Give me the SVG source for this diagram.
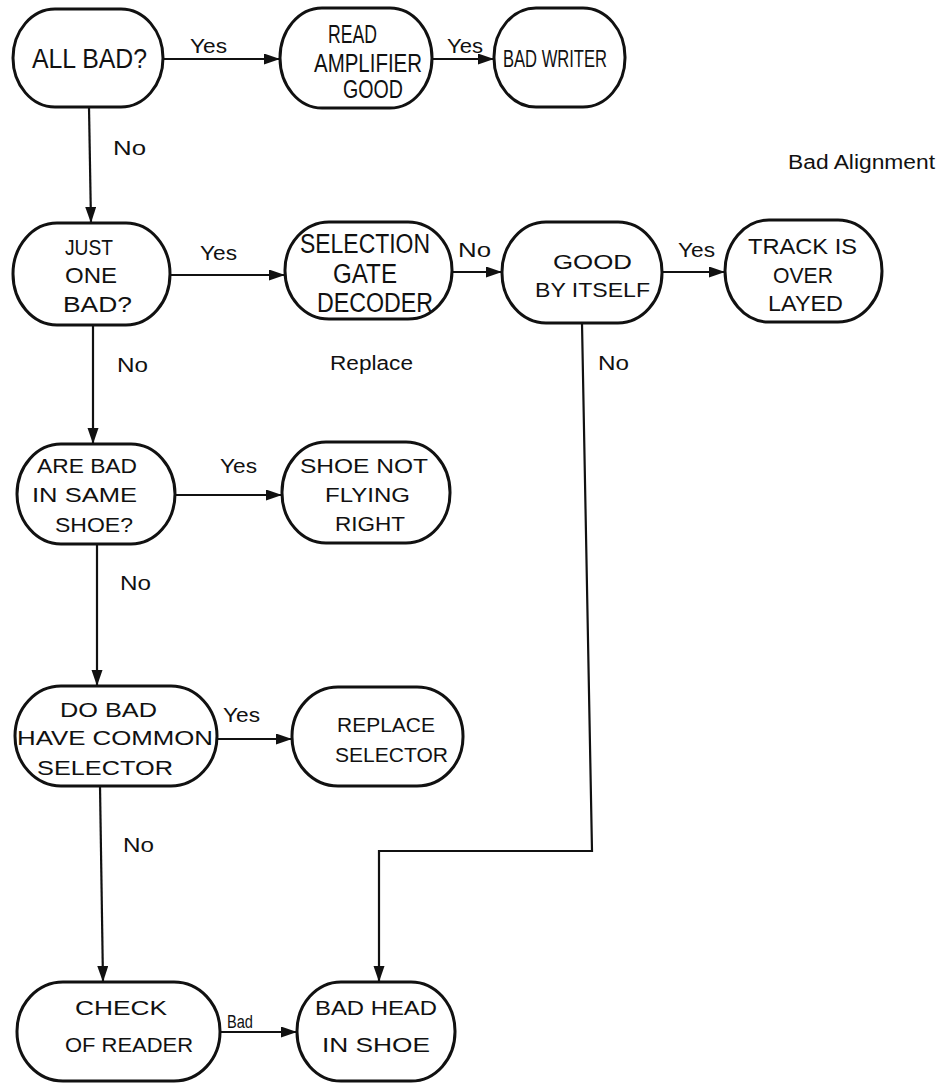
<svg xmlns="http://www.w3.org/2000/svg" width="951" height="1084" viewBox="0 0 951 1084">
<style>
  .node { fill: #fff; stroke: #111; stroke-width: 3; }
  .nt { font-family: "Liberation Sans", Arial, sans-serif; fill: #111; }
  .lbl { font-family: "Liberation Sans", Arial, sans-serif; fill: #111; font-size: 20px; }
  .conn { fill: none; stroke: #111; stroke-width: 2.2; }
</style>
<defs>
  <marker id="arr" markerUnits="userSpaceOnUse" markerWidth="17" markerHeight="12" refX="16" refY="5.5" orient="auto">
    <path d="M0,0 L16,5.5 L0,11 z" fill="#111"/>
  </marker>
</defs>
<rect width="951" height="1084" fill="#fff"/>

<g id="connectors">
  <line class="conn" x1="163" y1="59" x2="280" y2="59" marker-end="url(#arr)"/>
  <line class="conn" x1="432" y1="59" x2="494" y2="59" marker-end="url(#arr)"/>
  <line class="conn" x1="89" y1="107" x2="91" y2="223" marker-end="url(#arr)"/>
  <line class="conn" x1="170" y1="275" x2="285" y2="275" marker-end="url(#arr)"/>
  <line class="conn" x1="452" y1="272" x2="502" y2="272" marker-end="url(#arr)"/>
  <line class="conn" x1="662" y1="272" x2="725" y2="272" marker-end="url(#arr)"/>
  <line class="conn" x1="93" y1="325" x2="93" y2="444" marker-end="url(#arr)"/>
  <line class="conn" x1="175" y1="495" x2="282" y2="495" marker-end="url(#arr)"/>
  <line class="conn" x1="97" y1="544" x2="97" y2="686" marker-end="url(#arr)"/>
  <line class="conn" x1="217" y1="739" x2="292" y2="739" marker-end="url(#arr)"/>
  <line class="conn" x1="100" y1="786" x2="103" y2="982" marker-end="url(#arr)"/>
  <line class="conn" x1="220" y1="1032" x2="297" y2="1032" marker-end="url(#arr)"/>
  <polyline class="conn" points="582,323 592,851 379,851 379,982" marker-end="url(#arr)"/>
  <text class="lbl" x="190" y="53" textLength="37" lengthAdjust="spacingAndGlyphs">Yes</text>
  <text class="lbl" x="447" y="53" textLength="36" lengthAdjust="spacingAndGlyphs">Yes</text>
  <text class="lbl" x="113" y="155" textLength="33" lengthAdjust="spacingAndGlyphs">No</text>
  <text class="lbl" x="200" y="260" textLength="37" lengthAdjust="spacingAndGlyphs">Yes</text>
  <text class="lbl" x="458" y="257" textLength="33" lengthAdjust="spacingAndGlyphs">No</text>
  <text class="lbl" x="678" y="257" textLength="37" lengthAdjust="spacingAndGlyphs">Yes</text>
  <text class="lbl" x="117" y="372" textLength="31" lengthAdjust="spacingAndGlyphs">No</text>
  <text class="lbl" x="220" y="473" textLength="37" lengthAdjust="spacingAndGlyphs">Yes</text>
  <text class="lbl" x="120" y="590" textLength="31" lengthAdjust="spacingAndGlyphs">No</text>
  <text class="lbl" x="223" y="722" textLength="37" lengthAdjust="spacingAndGlyphs">Yes</text>
  <text class="lbl" x="123" y="852" textLength="31" lengthAdjust="spacingAndGlyphs">No</text>
  <text class="lbl" x="227" y="1028" style="font-size:18px" textLength="26" lengthAdjust="spacingAndGlyphs">Bad</text>
  <text class="lbl" x="598" y="370" textLength="31" lengthAdjust="spacingAndGlyphs">No</text>
</g>

<g id="annotations">
  <text class="lbl" x="330" y="370" textLength="83" lengthAdjust="spacingAndGlyphs">Replace</text>
  <text class="lbl" x="788" y="169" textLength="147" lengthAdjust="spacingAndGlyphs">Bad Alignment</text>
</g>

<g id="n-all-bad">
  <rect class="node" x="13" y="9" width="150" height="98" rx="42" ry="49"/>
  <text class="nt" style="font-size:28px" x="32" y="68" textLength="115" lengthAdjust="spacingAndGlyphs">ALL BAD?</text>
</g>
<g id="n-read-amp">
  <rect class="node" x="280" y="8" width="152" height="100" rx="42" ry="50"/>
  <text class="nt" style="font-size:25px" x="328" y="43" textLength="49" lengthAdjust="spacingAndGlyphs">READ</text>
  <text class="nt" style="font-size:25px" x="314" y="72" textLength="108" lengthAdjust="spacingAndGlyphs">AMPLIFIER</text>
  <text class="nt" style="font-size:25px" x="343" y="98" textLength="60" lengthAdjust="spacingAndGlyphs">GOOD</text>
</g>
<g id="n-bad-writer">
  <rect class="node" x="494" y="8" width="131" height="99" rx="42" ry="49"/>
  <text class="nt" style="font-size:24px" x="503" y="67" textLength="104" lengthAdjust="spacingAndGlyphs">BAD WRITER</text>
</g>
<g id="n-just-one">
  <rect class="node" x="13" y="223" width="157" height="102" rx="44" ry="51"/>
  <text class="nt" style="font-size:22px" x="65" y="255" textLength="48" lengthAdjust="spacingAndGlyphs">JUST</text>
  <text class="nt" style="font-size:22px" x="65" y="283" textLength="52" lengthAdjust="spacingAndGlyphs">ONE</text>
  <text class="nt" style="font-size:22px" x="63" y="312" textLength="69" lengthAdjust="spacingAndGlyphs">BAD?</text>
</g>
<g id="n-selection">
  <rect class="node" x="285" y="222" width="167" height="97" rx="44" ry="48"/>
  <text class="nt" style="font-size:27px" x="300" y="253" textLength="130" lengthAdjust="spacingAndGlyphs">SELECTION</text>
  <text class="nt" style="font-size:27px" x="333" y="283" textLength="64" lengthAdjust="spacingAndGlyphs">GATE</text>
  <text class="nt" style="font-size:27px" x="317" y="312" textLength="116" lengthAdjust="spacingAndGlyphs">DECODER</text>
</g>
<g id="n-good-itself">
  <rect class="node" x="502" y="222" width="160" height="101" rx="44" ry="50"/>
  <text class="nt" style="font-size:21px" x="553" y="269" textLength="79" lengthAdjust="spacingAndGlyphs">GOOD</text>
  <text class="nt" style="font-size:21px" x="535" y="297" textLength="115" lengthAdjust="spacingAndGlyphs">BY ITSELF</text>
</g>
<g id="n-track">
  <rect class="node" x="725" y="220" width="157" height="102" rx="44" ry="51"/>
  <text class="nt" style="font-size:22px" x="748" y="254" textLength="109" lengthAdjust="spacingAndGlyphs">TRACK IS</text>
  <text class="nt" style="font-size:22px" x="773" y="283" textLength="60" lengthAdjust="spacingAndGlyphs">OVER</text>
  <text class="nt" style="font-size:22px" x="768" y="311" textLength="75" lengthAdjust="spacingAndGlyphs">LAYED</text>
</g>
<g id="n-same-shoe">
  <rect class="node" x="17" y="444" width="158" height="100" rx="44" ry="50"/>
  <text class="nt" style="font-size:20px" x="37" y="473" textLength="100" lengthAdjust="spacingAndGlyphs">ARE BAD</text>
  <text class="nt" style="font-size:20px" x="32" y="502" textLength="105" lengthAdjust="spacingAndGlyphs">IN SAME</text>
  <text class="nt" style="font-size:20px" x="55" y="532" textLength="78" lengthAdjust="spacingAndGlyphs">SHOE?</text>
</g>
<g id="n-shoe-flying">
  <rect class="node" x="282" y="442" width="168" height="101" rx="44" ry="50"/>
  <text class="nt" style="font-size:20px" x="300" y="473" textLength="128" lengthAdjust="spacingAndGlyphs">SHOE NOT</text>
  <text class="nt" style="font-size:20px" x="325" y="502" textLength="85" lengthAdjust="spacingAndGlyphs">FLYING</text>
  <text class="nt" style="font-size:20px" x="335" y="531" textLength="70" lengthAdjust="spacingAndGlyphs">RIGHT</text>
</g>
<g id="n-common-selector">
  <rect class="node" x="15" y="686" width="202" height="100" rx="46" ry="50"/>
  <text class="nt" style="font-size:21px" x="60" y="717" textLength="97" lengthAdjust="spacingAndGlyphs">DO BAD</text>
  <text class="nt" style="font-size:21px" x="17" y="745" textLength="196" lengthAdjust="spacingAndGlyphs">HAVE COMMON</text>
  <text class="nt" style="font-size:21px" x="37" y="775" textLength="136" lengthAdjust="spacingAndGlyphs">SELECTOR</text>
</g>
<g id="n-replace-selector">
  <rect class="node" x="292" y="687" width="171" height="99" rx="46" ry="49"/>
  <text class="nt" style="font-size:20px" x="337" y="732" textLength="98" lengthAdjust="spacingAndGlyphs">REPLACE</text>
  <text class="nt" style="font-size:20px" x="335" y="762" textLength="113" lengthAdjust="spacingAndGlyphs">SELECTOR</text>
</g>
<g id="n-check-reader">
  <rect class="node" x="17" y="982" width="203" height="99" rx="46" ry="49"/>
  <text class="nt" style="font-size:21px" x="75" y="1015" textLength="92" lengthAdjust="spacingAndGlyphs">CHECK</text>
  <text class="nt" style="font-size:21px" x="65" y="1052" textLength="128" lengthAdjust="spacingAndGlyphs">OF READER</text>
</g>
<g id="n-bad-head">
  <rect class="node" x="297" y="982" width="158" height="99" rx="44" ry="49"/>
  <text class="nt" style="font-size:21px" x="315" y="1015" textLength="122" lengthAdjust="spacingAndGlyphs">BAD HEAD</text>
  <text class="nt" style="font-size:21px" x="322" y="1052" textLength="108" lengthAdjust="spacingAndGlyphs">IN SHOE</text>
</g>
</svg>
